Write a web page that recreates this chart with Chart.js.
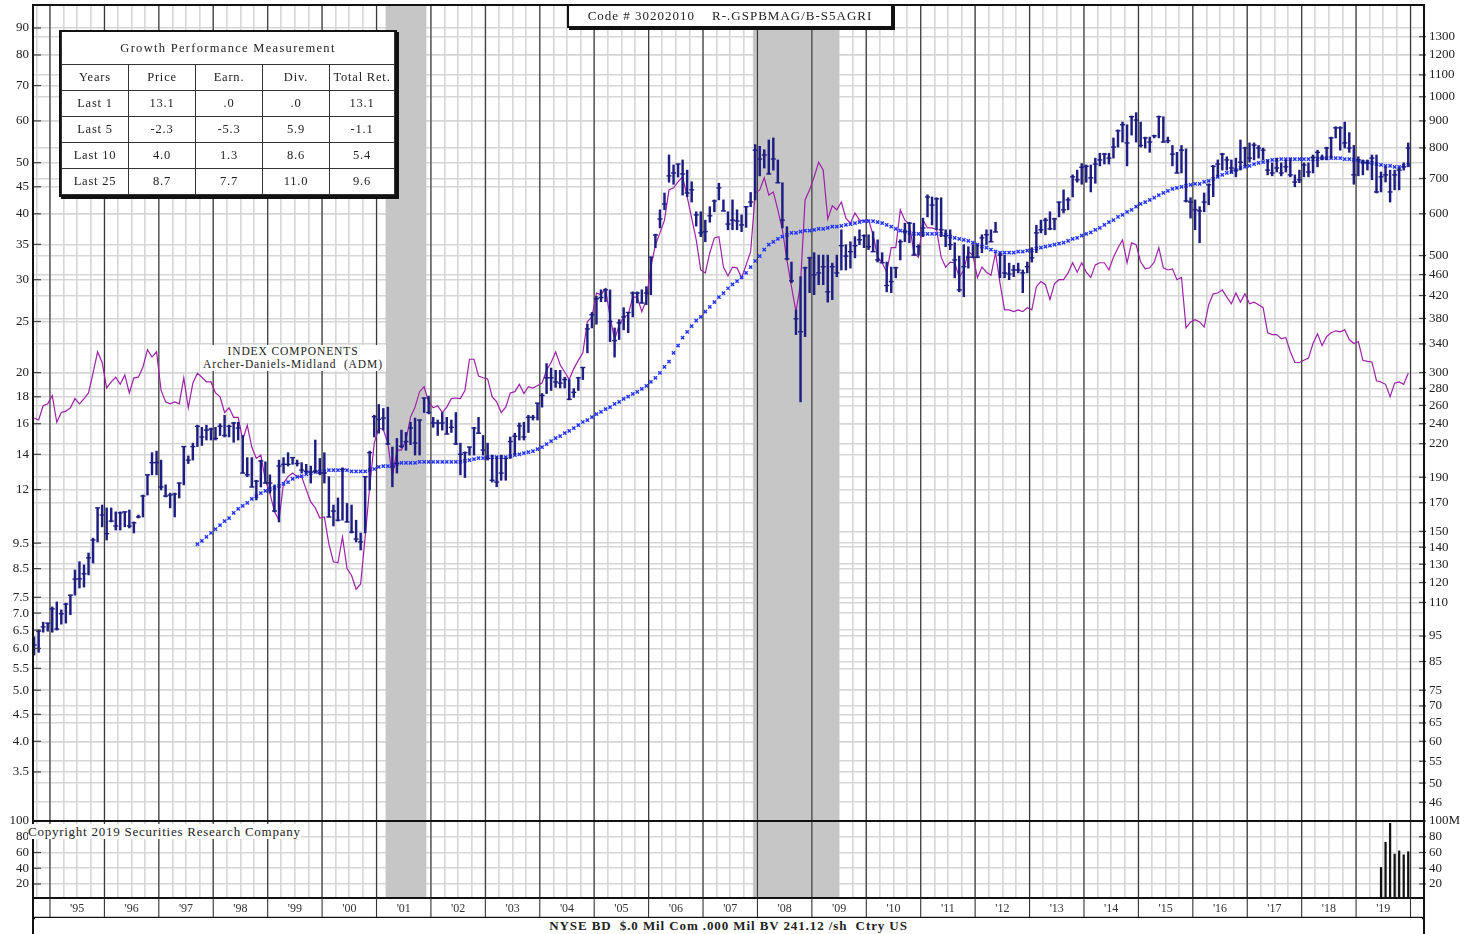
<!DOCTYPE html>
<html>
<head>
<meta charset="utf-8">
<title>R-.GSPBMAG/B-S5AGRI</title>
<script src="https://cdn.jsdelivr.net/npm/chart.js@4.4.1/dist/chart.umd.min.js"></script>
<style>
  html, body { margin: 0; padding: 0; background: #fff; }
  body { position: relative; width: 1477px; height: 934px; overflow: hidden;
         font-family: "Liberation Serif", "Times New Roman", serif; color: #222; }
  canvas { position: absolute; left: 0; }
  #mainChart { top: -10px; }
  #volChart { top: 806px; }
  .box { position: absolute; background: #fff; z-index: 2; }
  #codeBox { left: 567px; top: 4px; width: 322px; height: 20px; border: 2px solid #111;
             box-shadow: 2px 2px 0 #111; font-size: 13px; letter-spacing: 1px;
             text-align: center; line-height: 20px; white-space: pre; }
  #perf { left: 59px; top: 30px; border: 2px solid #111; box-shadow: 2px 2px 0 #111; }
  #perf table { border-collapse: collapse; table-layout: fixed; width: 333px;
                font-size: 12.5px; letter-spacing: 0.8px; }
  #perf td { border: 1px solid #333; text-align: center; padding: 0; height: 25px; }
  #perf td.ttl { height: 32px; letter-spacing: 1.3px; border-top: none; }
  #components { left: 200px; top: 345px; width: 186px; font-size: 11.5px; line-height: 13px;
                letter-spacing: 0.9px; text-align: center; white-space: nowrap; }
  #copyright { left: 28px; top: 824px; font-size: 13px; letter-spacing: 0.75px; line-height: 15px; }
  #footer { left: 35px; top: 918px; width: 1387px; font-size: 13px; font-weight: bold;
            line-height: 16px; text-align: center; white-space: pre; letter-spacing: 0.9px; }
</style>
</head>
<body>
<canvas id="mainChart" width="1477" height="845"></canvas>
<canvas id="volChart" width="1477" height="128"></canvas>
<div id="codeBox" class="box">Code # 30202010    R-.GSPBMAG/B-S5AGRI</div>
<div id="perf" class="box"><table id="perfTable"></table></div>
<div id="components" class="box">INDEX COMPONENTS<br>Archer-Daniels-Midland&nbsp;&nbsp;(ADM)</div>
<div id="copyright" class="box">Copyright 2019 Securities Research Company</div>
<div id="footer" class="box">NYSE BD  $.0 Mil Com .000 Mil BV 241.12 /sh  Ctry US</div>
<script>
// monthly bars start Sep 1994, one entry per month through Dec 2019
var startYear = 1994, startMonth = 9;

var highs = [
  6.31, 6.50, 6.73, 6.70,
  7.19, 7.35, 7.10, 7.31, 7.57, 8.45, 8.76, 8.64, 9.10, 9.71, 11.08, 11.22,
  11.08, 11.08, 10.89, 10.89, 10.89, 10.98, 10.42, 10.74, 11.72, 12.8, 14.1, 14.2,
  13.65, 12.25, 11.82, 11.82, 12.35, 14.48, 13.9, 14.7, 15.9, 15.75, 15.9, 15.7,
  15.75, 16.0, 16.6, 15.9, 16.1, 16.1, 15.2, 13.8, 13.8, 12.5, 13.65, 13.55,
  12.8, 12.25, 13.65, 13.8, 14.1, 13.8, 13.65, 13.5, 13.4, 13.3, 14.9, 13.75,
  14.1, 12.7, 11.22, 11.57, 13.2, 11.3, 11.22, 10.5, 9.93, 12.7, 14.2, 16.6,
  17.4, 17.1, 17.2, 14.45, 15.0, 15.56, 15.4, 16.1, 16.4, 16.26, 17.9, 18.05,
  16.45, 16.26, 16.8, 16.45, 16.26, 16.8, 14.7, 14.15, 14.45, 15.75, 16.45, 15.2,
  14.7, 13.95, 13.85, 13.95, 13.75, 15.1, 15.35, 16.05, 16.1, 16.6, 16.6, 17.5,
  18.25, 20.8, 20.4, 20.2, 20.2, 19.6, 19.4, 18.65, 19.6, 20.45, 24.7, 26.0,
  27.9, 28.7, 28.85, 28.7, 24.3, 25.2, 26.55, 26.0, 28.45, 28.45, 28.7, 29.1,
  33.1, 36.6, 40.7, 43.8, 51.7, 49.5, 49.7, 50.6, 48.4, 46.0, 40.35, 40.35,
  38.9, 41.25, 42.5, 45.7, 42.5, 40.35, 42.5, 40.7, 39.8, 41.25, 43.9, 54.1,
  53.7, 52.9, 55.2, 55.7, 50.6, 45.8, 37.8, 32.4, 26.3, 30.4, 31.7, 33.1,
  33.75, 33.4, 33.4, 33.4, 32.25, 33.4, 37.3, 34.95, 35.4, 36.2, 37.3, 36.5,
  36.5, 37.0, 35.7, 33.75, 32.4, 31.7, 31.7, 35.7, 38.4, 38.55, 38.4, 34.95,
  39.25, 43.45, 43.05, 42.9, 42.9, 37.3, 37.3, 35.25, 33.25, 34.95, 34.65, 34.95,
  34.95, 36.5, 37.3, 37.3, 38.55, 33.75, 33.4, 32.25, 31.95, 32.25, 31.3, 32.4,
  34.5, 38.05, 38.9, 39.25, 40.35, 39.25, 42.1, 44.4, 42.9, 47.4, 48.4, 49.8,
  49.5, 49.5, 51.0, 52.1, 52.1, 52.1, 55.7, 57.7, 59.7, 59.0, 61.3, 62.2,
  59.7, 55.9, 55.9, 56.4, 61.3, 61.1, 55.9, 53.9, 52.3, 53.9, 53.1, 42.9,
  42.5, 41.25, 43.8, 45.6, 49.4, 50.6, 52.1, 51.3, 50.6, 51.0, 55.2, 53.5,
  54.5, 54.5, 53.9, 53.3, 50.6, 49.95, 51.0, 49.95, 50.6, 51.0, 47.4, 48.4,
  49.95, 49.95, 51.7, 52.8, 51.7, 53.5, 55.9, 58.5, 58.5, 59.7, 57.0, 53.9,
  51.3, 50.6, 50.6, 51.7, 51.7, 48.0, 49.1, 48.4, 48.4, 48.85, 49.95, 54.5
];

var lows = [
  5.83, 5.90, 6.44, 6.47,
  6.44, 6.50, 6.67, 6.70, 6.95, 7.57, 7.81, 7.84, 8.27, 8.71, 9.55, 10.2,
  9.63, 10.42, 10.06, 10.06, 10.20, 10.15, 9.93, 10.6, 10.65, 11.72, 12.8, 12.8,
  11.98, 11.62, 11.08, 10.65, 11.57, 12.25, 13.45, 13.65, 14.48, 14.55, 14.9, 14.9,
  14.9, 15.2, 15.1, 15.1, 14.75, 14.9, 12.9, 12.7, 12.14, 11.47, 12.14, 12.35,
  11.82, 10.89, 10.42, 12.9, 13.3, 13.4, 13.3, 12.9, 12.9, 12.35, 12.9, 12.8,
  12.35, 10.65, 10.24, 10.46, 10.5, 10.42, 9.93, 9.55, 9.22, 9.93, 11.98, 15.1,
  15.35, 15.56, 14.6, 12.15, 12.9, 14.4, 14.25, 14.6, 13.95, 13.95, 16.8, 16.7,
  15.75, 15.2, 15.56, 15.3, 15.4, 14.6, 12.8, 12.65, 13.95, 13.95, 15.35, 13.95,
  13.65, 12.4, 12.15, 12.5, 12.5, 13.75, 13.95, 14.9, 14.9, 15.4, 16.26, 16.26,
  17.2, 18.25, 18.5, 18.75, 18.7, 18.7, 17.75, 17.95, 18.5, 19.4, 21.8, 24.3,
  24.7, 27.25, 27.25, 22.9, 21.4, 23.1, 24.1, 23.8, 25.5, 27.1, 27.1, 26.9,
  28.1, 34.5, 37.6, 40.7, 45.9, 45.5, 46.95, 43.4, 43.1, 42.1, 37.9, 36.2,
  35.4, 38.55, 40.35, 42.5, 40.5, 37.3, 37.3, 37.3, 37.0, 37.7, 41.25, 42.5,
  47.2, 48.85, 47.6, 48.4, 45.8, 37.6, 32.7, 29.6, 23.6, 17.6, 23.4, 28.35,
  28.1, 29.35, 29.35, 27.2, 27.5, 30.4, 31.3, 31.3, 31.55, 33.0, 34.95, 34.5,
  34.2, 33.9, 32.4, 32.3, 28.45, 28.35, 30.25, 32.7, 35.4, 35.25, 33.4, 33.4,
  36.2, 39.45, 38.1, 37.3, 36.2, 34.65, 34.2, 30.25, 28.45, 27.85, 31.55, 33.0,
  33.0, 33.75, 34.95, 35.4, 36.95, 30.25, 30.25, 30.0, 30.4, 30.9, 28.35, 30.9,
  32.4, 33.75, 36.8, 36.5, 37.3, 37.3, 39.45, 40.15, 40.7, 43.05, 45.9, 45.5,
  45.9, 44.0, 45.7, 49.3, 49.7, 49.7, 51.0, 53.5, 54.7, 49.3, 56.4, 54.7,
  53.5, 53.3, 52.3, 55.7, 55.7, 54.7, 54.5, 49.3, 47.8, 47.8, 42.1, 39.25,
  37.3, 35.25, 40.35, 41.6, 43.1, 47.0, 48.4, 48.4, 47.8, 47.0, 48.4, 49.3,
  50.1, 50.6, 51.0, 50.6, 47.4, 47.2, 48.0, 47.2, 48.0, 47.0, 45.0, 45.8,
  47.0, 47.0, 47.8, 49.1, 50.6, 50.6, 51.0, 55.7, 52.8, 53.3, 52.3, 45.5,
  47.2, 47.4, 48.4, 46.4, 43.8, 44.0, 45.95, 42.1, 44.4, 44.4, 48.4, 49.1
];

var closes = [
  6.09, 6.47, 6.59, 6.70,
  7.13, 6.53, 6.98, 7.28, 7.57, 8.12, 8.13, 8.31, 8.91, 9.63, 11.08, 10.74,
  9.90, 10.46, 10.24, 10.84, 10.89, 10.24, 10.38, 10.65, 11.67, 12.8, 13.5, 13.5,
  12.14, 11.67, 11.72, 11.77, 12.35, 14.48, 13.65, 14.48, 15.82, 15.1, 15.56, 15.63,
  15.0, 15.82, 15.2, 15.82, 16.05, 15.7, 12.9, 12.8, 12.14, 12.45, 13.6, 12.35,
  12.35, 10.93, 13.3, 13.4, 13.4, 13.8, 13.45, 13.07, 13.0, 12.95, 13.0, 12.9,
  12.9, 10.65, 10.93, 10.5, 13.1, 10.42, 9.97, 9.67, 9.55, 12.7, 14.1, 16.5,
  16.3, 16.4, 14.65, 13.25, 13.45, 14.5, 14.8, 15.7, 14.7, 16.26, 17.9, 16.8,
  16.05, 16.05, 16.05, 15.3, 15.75, 14.65, 14.0, 14.1, 14.45, 15.7, 15.35, 14.26,
  13.75, 12.5, 12.4, 12.9, 13.75, 14.8, 15.15, 15.85, 15.1, 16.45, 16.45, 17.5,
  18.1, 19.55, 19.55, 19.2, 19.1, 19.4, 17.8, 18.35, 19.55, 20.45, 24.2, 25.75,
  27.6, 27.75, 28.7, 25.0, 23.0, 24.85, 25.5, 26.0, 28.3, 28.3, 27.1, 28.3,
  33.1, 36.45, 39.1, 41.75, 47.2, 47.8, 49.7, 47.6, 43.8, 44.4, 39.8, 36.8,
  37.0, 39.65, 42.3, 44.8, 40.5, 38.25, 38.9, 38.75, 38.1, 41.25, 42.1, 52.8,
  50.8, 51.7, 47.6, 50.8, 45.8, 38.9, 32.85, 29.85, 25.3, 23.9, 31.6, 33.0,
  30.65, 30.9, 31.75, 28.45, 31.75, 30.9, 34.8, 33.25, 33.9, 34.8, 35.7, 36.35,
  34.65, 33.9, 32.7, 32.3, 29.25, 29.75, 31.6, 35.4, 37.0, 38.4, 33.4, 34.65,
  37.6, 43.05, 41.55, 42.7, 37.3, 36.35, 34.95, 32.7, 28.7, 31.75, 33.1, 33.1,
  33.1, 36.0, 36.5, 35.4, 36.95, 33.4, 30.9, 30.75, 31.3, 31.3, 30.9, 31.75,
  33.0, 36.8, 37.3, 38.9, 37.45, 39.1, 42.1, 40.7, 42.5, 47.0, 46.4, 49.0,
  49.2, 46.8, 49.7, 50.6, 51.9, 51.0, 53.5, 57.45, 59.0, 54.5, 61.1, 60.2,
  53.9, 55.7, 54.7, 56.2, 61.1, 54.7, 55.0, 51.9, 47.8, 52.8, 42.3, 42.1,
  40.7, 40.5, 42.1, 45.4, 49.2, 49.7, 51.9, 50.6, 48.85, 48.4, 50.1, 53.3,
  51.0, 54.0, 53.3, 52.8, 48.4, 47.8, 48.85, 47.8, 49.1, 47.4, 45.95, 46.4,
  49.5, 48.0, 51.2, 52.3, 51.0, 53.3, 55.7, 58.2, 58.2, 54.5, 53.3, 47.4,
  50.6, 50.1, 49.95, 51.0, 44.0, 47.0, 47.4, 44.0, 47.4, 48.4, 49.1, 53.3
];

// blue x line, starts Sep 1997
var avgStart = 36;
var movingAvg = [
  9.46, 9.59, 9.76, 9.93,
  10.1, 10.28, 10.46, 10.6, 10.84, 11.03, 11.18, 11.32, 11.52, 11.67, 11.82, 11.93,
  12.03, 12.09, 12.2, 12.3, 12.4, 12.57, 12.68, 12.73, 12.84, 12.9, 12.96, 13.0,
  13.0, 13.07, 13.07, 13.07, 13.07, 13.07, 13.0, 13.0, 13.0, 13.0, 13.07, 13.13,
  13.25, 13.3, 13.3, 13.36, 13.42, 13.48, 13.48, 13.48, 13.48, 13.54, 13.54, 13.54,
  13.54, 13.54, 13.54, 13.54, 13.54, 13.54, 13.54, 13.6, 13.65, 13.71, 13.77, 13.77,
  13.83, 13.83, 13.83, 13.83, 13.83, 13.89, 13.95, 14.0, 14.07, 14.13, 14.2, 14.32,
  14.45, 14.64, 14.83, 15.03, 15.16, 15.36, 15.5, 15.7, 15.9, 16.12, 16.26, 16.47,
  16.69, 16.84, 17.06, 17.21, 17.44, 17.6, 17.84, 18.0, 18.23, 18.39, 18.63, 18.88,
  19.2, 19.54, 19.97, 20.5, 20.97, 21.8, 22.5, 23.3, 23.9, 24.5, 25.1, 25.5,
  26.1, 26.65, 27.2, 27.8, 28.3, 28.9, 29.4, 29.8, 30.3, 30.9, 31.7, 32.55,
  33.25, 34.2, 34.95, 35.4, 35.85, 36.2, 36.5, 36.8, 36.8, 37.0, 37.15, 37.15,
  37.3, 37.45, 37.45, 37.6, 37.8, 37.8, 37.95, 38.1, 38.25, 38.4, 38.55, 38.75,
  38.75, 38.75, 38.55, 38.4, 38.1, 37.8, 37.45, 37.15, 37.0, 36.8, 36.65, 36.65,
  36.65, 36.65, 36.65, 36.65, 36.65, 36.5, 36.2, 36.0, 35.85, 35.7, 35.55, 35.25,
  34.95, 34.65, 34.5, 34.2, 33.9, 33.75, 33.75, 33.75, 33.75, 33.9, 33.9, 34.05,
  34.05, 34.35, 34.5, 34.65, 34.8, 34.95, 35.1, 35.25, 35.55, 35.85, 36.0, 36.35,
  36.65, 36.9, 37.3, 37.6, 38.1, 38.55, 38.9, 39.45, 39.8, 40.35, 40.7, 41.25,
  41.75, 42.1, 42.5, 42.9, 43.4, 43.8, 44.2, 44.6, 44.8, 45.0, 45.2, 45.4,
  45.6, 45.6, 46.0, 46.2, 46.6, 47.0, 47.4, 47.8, 48.0, 48.4, 48.85, 49.1,
  49.3, 49.7, 49.95, 50.1, 50.4, 50.6, 50.6, 50.8, 50.8, 50.8, 50.8, 50.8,
  50.8, 50.8, 50.8, 50.8, 51.0, 51.0, 51.0, 51.0, 51.0, 50.8, 50.8, 50.6,
  50.4, 50.1, 50.1, 49.95, 49.7, 49.5, 49.3, 49.3, 49.1, 49.1, 49.3, 49.5
];

// purple relative strength line, same months as the bars
var relStrength = [
  16.4, 16.26, 17.3, 17.45,
  18.1, 16.1, 16.8, 16.9, 17.15, 17.85, 17.45, 17.85, 18.3, 19.95, 21.9, 20.9,
  18.7, 19.2, 19.6, 19.0, 19.8, 18.3, 19.55, 19.6, 20.5, 22.1, 21.4, 21.9,
  18.5, 17.6, 17.45, 17.6, 17.45, 19.55, 17.15, 19.1, 19.95, 19.6, 19.2, 19.2,
  18.3, 18.0, 16.8, 17.15, 16.45, 16.45, 14.9, 15.9, 14.45, 13.75, 13.95, 12.5,
  11.8, 10.9, 10.5, 12.35, 12.7, 12.9, 12.7, 12.7, 12.0, 11.37, 11.08, 10.6,
  10.65, 9.46, 8.76, 8.72, 9.76, 8.5, 8.25, 7.77, 7.95, 9.76, 12.14, 14.7,
  15.7, 15.6, 14.7, 12.7, 14.26, 14.26, 14.9, 16.47, 17.2, 18.4, 18.8, 17.6,
  17.15, 17.3, 16.8, 17.2, 17.85, 17.9, 17.85, 18.5, 21.2, 21.2, 19.7, 19.55,
  19.45, 18.0, 17.6, 16.8, 17.2, 18.3, 18.4, 19.0, 18.25, 18.8, 18.7, 18.9,
  19.1, 20.2, 20.9, 21.9, 20.7, 20.05, 19.4, 20.35, 21.1, 21.8, 25.0, 25.5,
  28.3, 28.1, 28.85, 25.5, 23.1, 24.6, 25.5, 25.75, 27.8, 27.8, 26.1, 27.5,
  31.7, 34.95, 36.8, 38.9, 44.4, 44.8, 46.0, 47.0, 43.05, 39.25, 35.7, 31.3,
  30.9, 33.75, 36.0, 36.2, 31.7, 30.5, 31.7, 31.6, 30.25, 32.0, 33.9, 43.8,
  44.4, 46.8, 43.4, 44.0, 40.7, 37.3, 32.7, 29.1, 26.1, 29.5, 42.5, 44.4,
  47.0, 50.1, 48.4, 39.1, 41.4, 40.7, 42.1, 39.25, 38.4, 40.15, 38.9, 38.75,
  38.9, 36.5, 33.1, 32.3, 31.0, 34.5, 34.5, 40.7, 38.9, 38.25, 33.75, 33.1,
  38.9, 37.6, 37.6, 37.3, 33.1, 31.7, 32.4, 32.3, 30.3, 31.3, 33.9, 33.4,
  30.25, 31.7, 31.0, 30.6, 33.75, 29.5, 26.3, 26.3, 26.1, 26.3, 26.1, 26.55,
  26.3, 29.1, 29.75, 29.35, 27.5, 29.5, 30.0, 30.0, 30.9, 32.3, 31.0, 32.3,
  31.0, 30.3, 32.0, 32.3, 32.3, 31.3, 33.1, 34.5, 35.7, 32.3, 35.25, 34.95,
  32.4, 31.45, 31.6, 32.4, 34.5, 31.6, 31.3, 31.45, 30.0, 30.3, 24.3, 24.95,
  25.2, 24.95, 24.4, 26.9, 28.2, 28.3, 28.7, 27.8, 27.0, 28.3, 27.2, 28.2,
  27.0, 27.2, 26.9, 26.55, 23.8, 23.6, 23.6, 23.2, 23.3, 21.9, 20.9, 20.9,
  21.1, 21.3, 22.7, 23.7, 22.5, 23.4, 23.8, 24.0, 23.9, 24.1, 23.1, 22.7,
  22.9, 21.1, 21.0, 20.95, 19.3, 19.2, 19.0, 18.0, 19.1, 19.2, 19.0, 19.95
];

// volume in millions, Jun-Dec 2019
var volumeStart = 297;
var volume = [41, 73, 97, 58, 62, 57, 61];

var recessions = [[2001 + 2 / 12, 2001 + 11 / 12], [2007 + 11 / 12, 2009 + 6 / 12]];

var leftTicks = [90, 80, 70, 60, 50, 45, 40, 35, 30, 25, 20, 18, 16, 14, 12, 9.5, 8.5, 7.5, 7, 6.5, 6, 5.5, 5, 4.5, 4, 3.5];
var rightTicks = [1300, 1200, 1100, 1000, 900, 800, 700, 600, 500, 460, 420, 380, 340, 300, 280, 260, 240, 220,
  190, 170, 150, 140, 130, 120, 110, 95, 85, 75, 70, 65, 60, 55, 50, 46];
var volTicks = [20, 40, 60, 80, 100];

var perfTitle = "Growth Performance Measurement";
var perfHeader = ["Years", "Price", "Earn.", "Div.", "Total Ret."];
var perfRows = [
  ["Last 1", "13.1", ".0", ".0", "13.1"],
  ["Last 5", "-2.3", "-5.3", "5.9", "-1.1"],
  ["Last 10", "4.0", "1.3", "8.6", "5.4"],
  ["Last 25", "8.7", "7.7", "11.0", "9.6"]
];

var indexFactor = 15;          // right scale = 15 x left scale
var priceMin = 2.825, priceMax = 99.5;
var xMin = 1994.688, xMax = 2020.248;

// table
var html = '<colgroup><col style="width:67px"><col style="width:67px"><col style="width:67px"><col style="width:67px"><col style="width:65px"></colgroup>';
html += '<tr><td class="ttl" colspan="5">' + perfTitle + '</td></tr>';
html += '<tr><td>' + perfHeader.join('</td><td>') + '</td></tr>';
for (var r = 0; r < perfRows.length; r++) {
  html += '<tr><td>' + perfRows[r].join('</td><td>') + '</td></tr>';
}
document.getElementById("perfTable").innerHTML = html;

function monthX(k) {
  return startYear + (startMonth - 1 + k + 0.5) / 12;
}

var serif = '"Liberation Serif", "Times New Roman", serif';
Chart.defaults.font.family = serif;
Chart.defaults.font.size = 13;
Chart.defaults.color = "#222";
Chart.defaults.animation = false;

var navy = "#1e1e82";
var lightGrid = "#d6d6d6";
var yearLine = "#3a3a3a";

function quarterTicks(scale) {
  var t = [];
  for (var q = Math.ceil(scale.min * 4); q <= Math.floor(scale.max * 4); q++) {
    t.push({ value: q / 4 });
  }
  scale.ticks = t;
}

function priceLabel(v) {
  return v < 10 ? v.toFixed(1) : String(v);
}

// grey bands, year lines, frame, inside tick marks
var panelDecor = {
  id: "panelDecor",
  beforeDatasetsDraw: function(chart) {
    var ctx = chart.ctx, a = chart.chartArea, x = chart.scales.x;
    ctx.save();
    ctx.beginPath();
    ctx.rect(a.left, a.top, a.right - a.left, a.bottom - a.top);
    ctx.clip();
    ctx.fillStyle = "#c6c6c6";
    recessions.forEach(function(r) {
      var x0 = x.getPixelForValue(r[0]), x1 = x.getPixelForValue(r[1]);
      ctx.fillRect(x0, a.top, x1 - x0, a.bottom - a.top);
    });
    ctx.strokeStyle = yearLine;
    ctx.lineWidth = 1.2;
    for (var yr = Math.ceil(x.min); yr <= x.max; yr++) {
      var px = x.getPixelForValue(yr);
      ctx.beginPath();
      ctx.moveTo(px, a.top);
      ctx.lineTo(px, a.bottom);
      ctx.stroke();
    }
    ctx.restore();
  },
  afterDraw: function(chart) {
    var ctx = chart.ctx, a = chart.chartArea;
    var yl = chart.scales.y, yr = chart.scales.yR;
    ctx.save();
    ctx.strokeStyle = "#444";
    ctx.lineWidth = 1.2;
    yl.ticks.forEach(function(t) {
      var p = yl.getPixelForValue(t.value);
      ctx.beginPath(); ctx.moveTo(a.left, p); ctx.lineTo(a.left + 8, p); ctx.stroke();
    });
    yr.ticks.forEach(function(t) {
      var p = yr.getPixelForValue(t.value);
      ctx.beginPath(); ctx.moveTo(a.right - 5, p); ctx.lineTo(a.right + 2, p); ctx.stroke();
    });
    ctx.strokeStyle = "#111";
    ctx.lineWidth = 2;
    ctx.strokeRect(a.left, a.top, a.right - a.left, a.bottom - a.top);
    ctx.restore();
  }
};

// year strip under the volume panel
var yearBand = {
  id: "yearBand",
  afterDraw: function(chart) {
    var ctx = chart.ctx, a = chart.chartArea, x = chart.scales.x;
    var bandBottom = a.bottom + 20;
    ctx.save();
    ctx.strokeStyle = "#333";
    ctx.lineWidth = 1.1;
    for (var yr = Math.ceil(x.min); yr <= x.max; yr++) {
      var px = x.getPixelForValue(yr);
      ctx.beginPath(); ctx.moveTo(px, a.bottom); ctx.lineTo(px, bandBottom); ctx.stroke();
    }
    ctx.strokeStyle = "#111";
    ctx.lineWidth = 2.5;
    ctx.beginPath(); ctx.moveTo(a.left, bandBottom); ctx.lineTo(a.right, bandBottom); ctx.stroke();
    ctx.lineWidth = 2;
    ctx.beginPath(); ctx.moveTo(a.left, a.top); ctx.lineTo(a.left, chart.height); ctx.stroke();
    ctx.beginPath(); ctx.moveTo(a.right, a.top); ctx.lineTo(a.right, chart.height); ctx.stroke();
    ctx.restore();
  }
};

var barData = [], closeData = [], rsData = [], avgData = [];
for (var k = 0; k < highs.length; k++) {
  barData.push({ x: monthX(k), y: [lows[k], highs[k]] });
  closeData.push({ x: monthX(k), y: closes[k] });
  rsData.push({ x: monthX(k), y: relStrength[k] });
}
for (var i = 0; i < movingAvg.length; i++) {
  avgData.push({ x: monthX(avgStart + i), y: movingAvg[i] });
}

var mainChart = new Chart(document.getElementById("mainChart").getContext("2d"), {
  type: "bar",
  data: {
    datasets: [
      {
        type: "line",
        data: rsData,
        borderColor: "#9d20a8",
        borderWidth: 1.2,
        pointRadius: 0,
        tension: 0,
        order: 4
      },
      {
        type: "scatter",
        data: avgData,
        pointStyle: "crossRot",
        pointRadius: 2.3,
        borderColor: "#2233ff",
        backgroundColor: "#2233ff",
        pointBorderWidth: 1.4,
        order: 3
      },
      {
        type: "bar",
        data: barData,
        backgroundColor: navy,
        barThickness: 1.8,
        grouped: false,
        order: 2
      },
      {
        type: "scatter",
        data: closeData,
        pointStyle: "line",
        pointRadius: 2.5,
        borderColor: navy,
        pointBorderWidth: 1.4,
        order: 1
      }
    ]
  },
  options: {
    responsive: false,
    layout: { padding: { top: 15, left: 0, right: 0, bottom: 0 } },
    plugins: { legend: { display: false }, tooltip: { enabled: false } },
    scales: {
      x: {
        type: "linear",
        min: xMin,
        max: xMax,
        offset: false,
        afterBuildTicks: quarterTicks,
        ticks: { display: false },
        grid: { color: lightGrid, lineWidth: 1.6, drawTicks: false, offset: false },
        border: { display: false },
        afterFit: function(s) { s.height = 14; }
      },
      y: {
        type: "logarithmic",
        position: "left",
        min: priceMin,
        max: priceMax,
        afterBuildTicks: function(s) { s.ticks = leftTicks.map(function(v) { return { value: v }; }); },
        ticks: { callback: priceLabel, padding: 4, autoSkip: false },
        grid: { color: lightGrid, lineWidth: 1.6, drawTicks: false },
        border: { display: false },
        afterFit: function(s) { s.width = 33; }
      },
      yR: {
        type: "logarithmic",
        position: "right",
        min: priceMin * indexFactor,
        max: priceMax * indexFactor,
        afterBuildTicks: function(s) { s.ticks = rightTicks.map(function(v) { return { value: v }; }); },
        ticks: { callback: function(v) { return String(v); }, padding: 5, autoSkip: false },
        grid: { color: lightGrid, lineWidth: 1.6, drawTicks: false },
        border: { display: false },
        afterFit: function(s) { s.width = 53; }
      }
    }
  },
  plugins: [panelDecor]
});

var volData = volume.map(function(v, j) { return { x: monthX(volumeStart + j), y: v }; });

var volChart = new Chart(document.getElementById("volChart").getContext("2d"), {
  type: "bar",
  data: {
    datasets: [{
      data: volData,
      backgroundColor: "#111",
      barThickness: 1.6,
      grouped: false
    }]
  },
  options: {
    responsive: false,
    layout: { padding: { top: 15, left: 0, right: 0, bottom: 0 } },
    plugins: { legend: { display: false }, tooltip: { enabled: false } },
    scales: {
      x: {
        type: "linear",
        min: xMin,
        max: xMax,
        offset: false,
        afterBuildTicks: quarterTicks,
        ticks: {
          autoSkip: false,
          maxRotation: 0,
          padding: 4,
          font: { size: 12 },
          color: "#333",
          callback: function(v) {
            return Math.abs(v % 1 - 0.5) < 1e-6 ? "'" + String(Math.floor(v)).slice(2) : "";
          }
        },
        grid: { color: lightGrid, lineWidth: 1.6, drawTicks: false, offset: false },
        border: { display: false },
        afterFit: function(s) { s.height = 36; }
      },
      y: {
        type: "linear",
        position: "left",
        min: 2.2,
        max: 100,
        afterBuildTicks: function(s) { s.ticks = volTicks.map(function(v) { return { value: v }; }); },
        ticks: { padding: 4, autoSkip: false },
        grid: { color: lightGrid, lineWidth: 1.6, drawTicks: false },
        border: { display: false },
        afterFit: function(s) { s.width = 33; }
      },
      yR: {
        type: "linear",
        position: "right",
        min: 2.2,
        max: 100,
        afterBuildTicks: function(s) { s.ticks = volTicks.map(function(v) { return { value: v }; }); },
        ticks: { padding: 5, autoSkip: false, callback: function(v) { return v === 100 ? "100M" : String(v); } },
        grid: { drawOnChartArea: false, drawTicks: false },
        border: { display: false },
        afterFit: function(s) { s.width = 53; }
      }
    }
  },
  plugins: [panelDecor, yearBand]
});
</script>
</body>
</html>
